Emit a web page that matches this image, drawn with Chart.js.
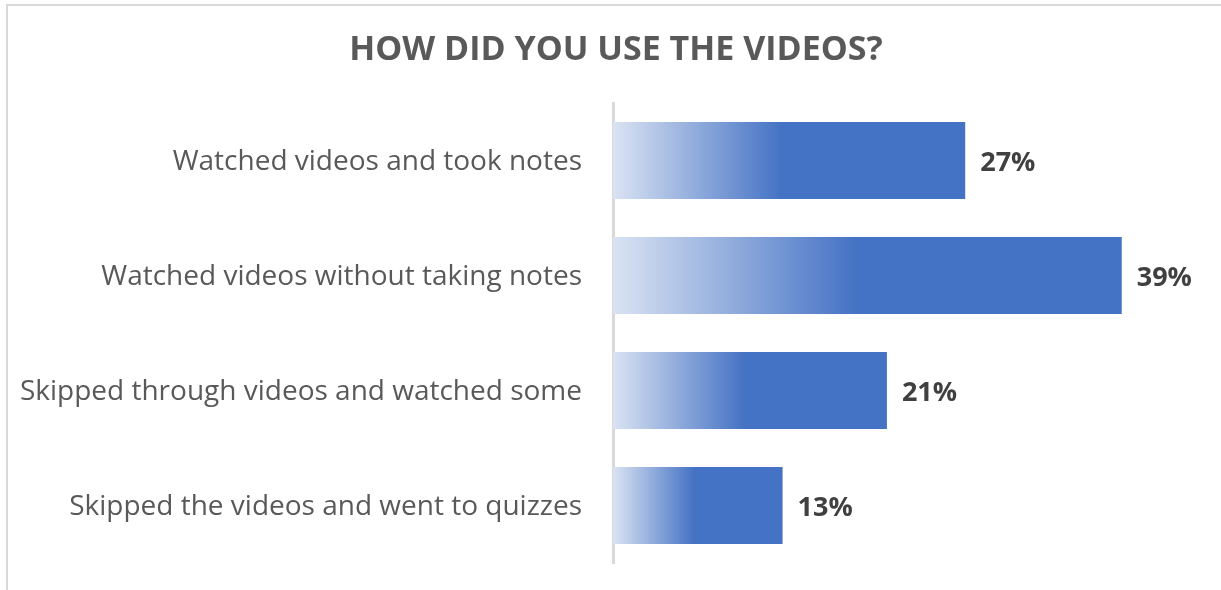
<!DOCTYPE html>
<html>
<head>
<meta charset="utf-8">
<script src="https://cdn.jsdelivr.net/npm/chart.js@4/dist/chart.umd.min.js"></script>
<style>
  html, body { margin: 0; padding: 0; background: #ffffff; }
  #wrap { position: relative; width: 1221px; height: 590px; }
</style>
</head>
<body>
<div id="wrap"><canvas id="myChart"></canvas></div>
<script>
const categories = [
    'Watched videos and took notes',
    'Watched videos without taking notes',
    'Skipped through videos and watched some',
    'Skipped the videos and went to quizzes'
];
const percentValues = [27, 39, 21, 13];
const valueLabels = ['27%', '39%', '21%', '13%'];
const chartTitle = 'HOW DID YOU USE THE VIDEOS?';

const fontFamily = "'Open Sans', 'Noto Sans', sans-serif";

// soft frame at top and left, like the cropped chart border, plus the title
const framePlugin = {
    id: 'frame',
    beforeDraw: (chart) => {
        const ctx = chart.ctx;
        ctx.save();
        ctx.fillStyle = '#ffffff';
        ctx.fillRect(0, 0, chart.width, chart.height);
        ctx.strokeStyle = '#d9d9d9';
        ctx.lineWidth = 2;
        ctx.beginPath();
        ctx.moveTo(7, chart.height);
        ctx.lineTo(7, 5);
        ctx.lineTo(chart.width, 5);
        ctx.stroke();

        ctx.font = "bold 34px " + fontFamily;
        ctx.fillStyle = '#595959';
        ctx.textAlign = 'center';
        ctx.textBaseline = 'middle';
        ctx.fillText(chartTitle, 616, 50);
        ctx.restore();
    }
};

// percentage labels at the end of every bar
const valueLabelPlugin = {
    id: 'valueLabels',
    afterDatasetsDraw: (chart) => {
        const ctx = chart.ctx;
        const meta = chart.getDatasetMeta(0);
        ctx.save();
        ctx.font = "bold 27px " + fontFamily;
        ctx.fillStyle = '#404040';
        ctx.textAlign = 'left';
        ctx.textBaseline = 'middle';
        meta.data.forEach((bar, i) => {
            ctx.fillText(valueLabels[i], bar.x + 15, bar.y + 3);
        });
        ctx.restore();
    }
};

const barGradient = (context) => {
    const chart = context.chart;
    const xScale = chart.scales.x;
    if (!chart.chartArea || !xScale) {
        return '#4472c4';
    }
    const x0 = xScale.getPixelForValue(0);
    const x1 = xScale.getPixelForValue(percentValues[context.dataIndex]);
    if (!isFinite(x0) || !isFinite(x1) || x1 <= x0) {
        return '#4472c4';
    }
    const g = chart.ctx.createLinearGradient(x0, 0, x1, 0);
    g.addColorStop(0, '#dae3f3');
    g.addColorStop(0.48, '#4472c4');
    g.addColorStop(1, '#4472c4');
    return g;
};

new Chart(document.getElementById('myChart'), {
    type: 'bar',
    data: {
        labels: categories,
        datasets: [
            {
                data: percentValues,
                backgroundColor: barGradient,
                borderWidth: 0,
                categoryPercentage: 1,
                barPercentage: 0.67,
            }
        ]
    },
    options: {
        indexAxis: 'y',
        responsive: true,
        maintainAspectRatio: false,
        animation: false,
        layout: {
            padding: { left: 0, right: 21, top: 103, bottom: 27 }
        },
        scales: {
            x: {
                display: false,
                min: 0,
                max: 45,
            },
            y: {
                afterFit: (scale) => {
                    scale.width = 613;
                    scale.paddingTop = 0;
                    scale.paddingBottom = 0;
                },
                border: {
                    display: true,
                    color: '#d9d9d9',
                    width: 3,
                },
                grid: {
                    display: false,
                    drawTicks: false,
                },
                ticks: {
                    color: '#595959',
                    padding: 31,
                    labelOffset: 2,
                    font: { family: fontFamily, size: 28 },
                },
            },
        },
        plugins: {
            legend: { display: false },
            tooltip: { enabled: false },
            title: { display: false },
        }
    },
    plugins: [framePlugin, valueLabelPlugin]
});
</script>
</body>
</html>
